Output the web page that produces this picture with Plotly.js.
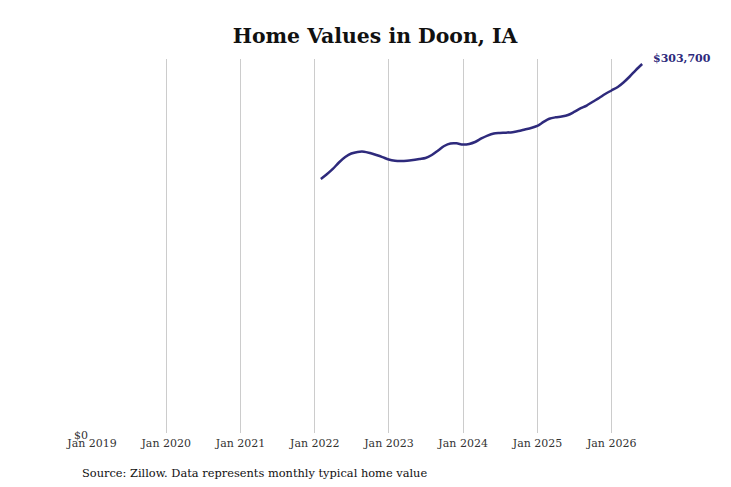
<!DOCTYPE html>
<html>
<head>
<meta charset="utf-8">
<script src="https://cdn.plot.ly/plotly-3.0.1.min.js"></script>
<style>
  html, body { margin: 0; padding: 0; background: #fff; }
  #chart { width: 731px; height: 487px; }
</style>
</head>
<body>
<div id="chart"></div>
<script>
(function () {
  'use strict';

  var LINE = '#2e2a7c';
  var SERIF = '"DejaVu Serif", "Liberation Serif", serif';

  /* Monthly typical home value, Jan 2022 – May 2026 (month ends) */
  var months = [
    '2022-01-31', '2022-02-28', '2022-03-31', '2022-04-30', '2022-05-31', '2022-06-30',
    '2022-07-31', '2022-08-31', '2022-09-30', '2022-10-31', '2022-11-30', '2022-12-31',
    '2023-01-31', '2023-02-28', '2023-03-31', '2023-04-30', '2023-05-31', '2023-06-30',
    '2023-07-31', '2023-08-31', '2023-09-30', '2023-10-31', '2023-11-30', '2023-12-31',
    '2024-01-31', '2024-02-29', '2024-03-31', '2024-04-30', '2024-05-31', '2024-06-30',
    '2024-07-31', '2024-08-31', '2024-09-30', '2024-10-31', '2024-11-30', '2024-12-31',
    '2025-01-31', '2025-02-28', '2025-03-31', '2025-04-30', '2025-05-31', '2025-06-30',
    '2025-07-31', '2025-08-31', '2025-09-30', '2025-10-31', '2025-11-30', '2025-12-31',
    '2026-01-31', '2026-02-28', '2026-03-31', '2026-04-30', '2026-05-31'
  ];
  var values = [
    209000, 212700, 217300, 222600, 227100, 230000,
    231300, 231500, 230400, 228800, 227100, 225100,
    224100, 223900, 224100, 224700, 225500, 226300,
    228800, 232500, 236200, 238300, 238400, 237400,
    237900, 239500, 242400, 244800, 246500, 246900,
    247200, 247600, 248500, 249800, 251000, 252700,
    256000, 258600, 259800, 260500, 261700, 264200,
    267100, 269500, 272600, 275700, 279000, 281900,
    284800, 288500, 293400, 298700, 303700
  ];

  var yearTicks = ['2019-01-01', '2020-01-01', '2021-01-01', '2022-01-01',
                   '2023-01-01', '2024-01-01', '2025-01-01', '2026-01-01'];
  var yearLabels = ['Jan 2019', 'Jan 2020', 'Jan 2021', 'Jan 2022',
                    'Jan 2023', 'Jan 2024', 'Jan 2025', 'Jan 2026'];

  var title = 'Home Values in Doon, IA';
  var source = 'Source: Zillow. Data represents monthly typical home value';

  var lastX = months[months.length - 1];
  var lastY = values[values.length - 1];

  var trace = {
    x: months,
    y: values,
    type: 'scatter',
    mode: 'lines',
    line: { color: LINE, width: 2.5, shape: 'spline', smoothing: 0.8 },
    hoverinfo: 'skip',
    showlegend: false
  };

  var ML = 92, MR = 86, MT = 59, MB = 54;
  var plotW = 731 - ML - MR, plotH = 487 - MT - MB;

  var layout = {
    width: 731,
    height: 487,
    margin: { l: ML, r: MR, t: MT, b: MB },
    paper_bgcolor: '#fff',
    plot_bgcolor: '#fff',
    font: { family: SERIF, color: '#333' },
    title: {
      text: '<b>' + title + '</b>',
      font: { family: SERIF, size: 20.4, color: '#111' },
      x: 0.513, xanchor: 'center',
      y: 0.926, yanchor: 'middle'
    },
    xaxis: {
      type: 'date',
      range: ['2019-01-01', '2026-06-14'],
      tickvals: yearTicks,
      ticktext: yearLabels,
      tickfont: { family: SERIF, size: 11, color: '#333' },
      ticklabelstandoff: 2,
      showgrid: true,
      gridcolor: '#cccccc',
      gridwidth: 1,
      zeroline: false,
      showline: false,
      ticks: '',
      fixedrange: true
    },
    yaxis: {
      range: [0, 307800],
      tickvals: [0],
      ticktext: ['$0'],
      tickfont: { family: SERIF, size: 11, color: '#333' },
      showgrid: false,
      zeroline: false,
      showline: false,
      ticks: '',
      ticklabelstandoff: 3,
      ticklabelshift: 2,
      fixedrange: true
    },
    annotations: [
      {
        x: lastX, y: lastY, xref: 'x', yref: 'y',
        text: '<b>$' + lastY.toLocaleString('en-US') + '</b>',
        showarrow: false,
        xanchor: 'left', yanchor: 'middle',
        xshift: 9, yshift: 5,
        font: { family: SERIF, size: 11, color: LINE }
      },
      {
        /* source line sits in pixel space below the axis */
        x: (80 - ML) / plotW, y: (487 - MB - 473) / plotH,
        xref: 'paper', yref: 'paper',
        text: source,
        showarrow: false,
        xanchor: 'left', yanchor: 'middle',
        font: { family: SERIF, size: 11.4, color: '#111' }
      }
    ]
  };

  Plotly.newPlot('chart', [trace], layout, { displayModeBar: false, staticPlot: true });
})();
</script>
</body>
</html>
